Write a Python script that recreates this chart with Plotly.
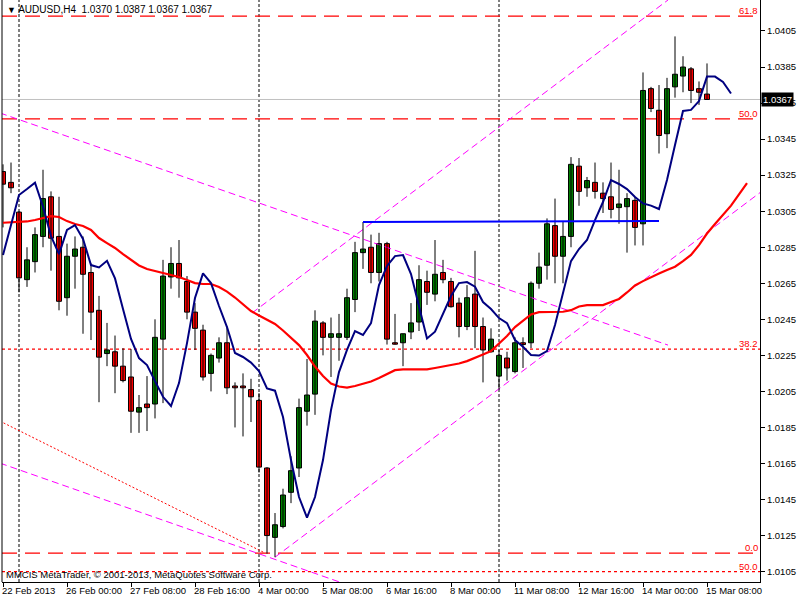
import plotly.graph_objects as go

# ---------------- data ----------------
x_tick_bars = [0, 8, 16, 24, 32, 40, 48, 56, 64, 72, 80, 88]
x_tick_labels = ["22 Feb 2013", "26 Feb 00:00", "27 Feb 08:00", "28 Feb 16:00", "4 Mar 00:00",
                 "5 Mar 08:00", "6 Mar 16:00", "8 Mar 00:00", "11 Mar 08:00", "12 Mar 16:00",
                 "14 Mar 00:00", "15 Mar 08:00"]
y_tick_values = [1.0105, 1.0125, 1.0145, 1.0165, 1.0185, 1.0205, 1.0225, 1.0245, 1.0265,
                 1.0285, 1.0305, 1.0325, 1.0345, 1.0365, 1.0385, 1.0405]

opens = [1.0327, 1.0321, 1.03045, 1.0267, 1.0277, 1.0291, 1.0313, 1.0291, 1.0257, 1.0280,
         1.0285, 1.0271, 1.0250, 1.0226, 1.0227, 1.0219, 1.0213, 1.01935, 1.0198, 1.0198,
         1.0234, 1.02685, 1.0276, 1.0266, 1.0249, 1.0239, 1.0215, 1.02235, 1.0232, 1.0208,
         1.0208, 1.0206, 1.0200, 1.01625, 1.0124, 1.0130, 1.0149, 1.01625, 1.0194, 1.02035,
         1.0243, 1.0235, 1.0235, 1.0235, 1.0256, 1.0282, 1.0285, 1.0271, 1.0287, 1.0232,
         1.0232, 1.0238, 1.02435, 1.0266, 1.0259, 1.0271, 1.0266, 1.0254, 1.0241, 1.0259,
         1.0241, 1.0227, 1.02135, 1.02235, 1.0216, 1.0232, 1.0232, 1.0265, 1.0275, 1.0297,
         1.0280, 1.0291, 1.0330, 1.0318, 1.0321, 1.0315, 1.0313, 1.0307, 1.03075, 1.0311,
         1.0298, 1.0373, 1.0361, 1.0348, 1.0374, 1.0380, 1.0384, 1.0373, 1.0370]
highs = [1.0331, 1.0332, 1.0305, 1.0285, 1.0296, 1.0328, 1.0316, 1.0313, 1.0287, 1.0291,
         1.0291, 1.0276, 1.0258, 1.0243, 1.0236, 1.0229, 1.02285, 1.0203, 1.02135, 1.0245,
         1.0278, 1.0285, 1.0289, 1.0269, 1.0254, 1.0242, 1.0226, 1.0235, 1.0241, 1.0210,
         1.0215, 1.0212, 1.0204, 1.0163, 1.01375, 1.0151, 1.0169, 1.0201, 1.0223, 1.0250,
         1.0244, 1.0246, 1.0248, 1.0262, 1.0288, 1.0299, 1.0292, 1.0293, 1.0288, 1.0248,
         1.0237, 1.0254, 1.0275, 1.0272, 1.0289, 1.0278, 1.0268, 1.0257, 1.0264, 1.0283,
         1.0246, 1.0240, 1.0228, 1.0227, 1.0235, 1.0235, 1.0266, 1.0282, 1.0301, 1.0312,
         1.0299, 1.0335, 1.03345, 1.0324, 1.0332, 1.0321, 1.0332, 1.0328, 1.0315, 1.0313,
         1.0382, 1.0374, 1.0375, 1.0379, 1.0402, 1.0391, 1.0385, 1.0377, 1.0387]
lows = [1.0296, 1.0315, 1.0260, 1.0263, 1.0271, 1.0285, 1.0272, 1.0250, 1.0247, 1.0262,
        1.0237, 1.02335, 1.0199, 1.0219, 1.0204, 1.0210, 1.0182, 1.0182, 1.0183, 1.0190,
        1.01985, 1.0262, 1.0257, 1.0245, 1.0228, 1.0211, 1.0205, 1.0221, 1.02035, 1.0185,
        1.0180, 1.0188, 1.0160, 1.0115, 1.0113, 1.0129, 1.0143, 1.01575, 1.0186, 1.0192,
        1.0225, 1.0213, 1.0222, 1.02335, 1.0249, 1.0273, 1.0265, 1.0266, 1.0231, 1.0231,
        1.0219, 1.0234, 1.02385, 1.0253, 1.0255, 1.0265, 1.02515, 1.0235, 1.0239, 1.0229,
        1.0210, 1.02265, 1.0206, 1.0211, 1.0215, 1.0218, 1.0229, 1.0262, 1.0267, 1.0265,
        1.0265, 1.0285, 1.0308, 1.0313, 1.0312, 1.0304, 1.0301, 1.0298, 1.0282, 1.0286,
        1.0286, 1.0360, 1.0337, 1.0340, 1.0368, 1.0371, 1.0365, 1.0364, 1.0367]
closes = [1.0320, 1.0318, 1.0268, 1.0278, 1.0292, 1.0312, 1.0290, 1.0255, 1.0280, 1.0284,
          1.0270, 1.0249, 1.0224, 1.0228, 1.0219, 1.0211, 1.0194, 1.0196, 1.0196, 1.0235,
          1.0269, 1.0276, 1.0268, 1.0249, 1.0240, 1.0213, 1.0225, 1.0232, 1.0207, 1.0207,
          1.0207, 1.0202, 1.0163, 1.0125, 1.0131, 1.01475, 1.0161, 1.0196, 1.0203, 1.0244,
          1.0235, 1.0237, 1.0237, 1.0257, 1.0282, 1.0284, 1.0271, 1.0287, 1.0234, 1.02312,
          1.0237, 1.0243, 1.0267, 1.0260, 1.0270, 1.0267, 1.0252, 1.0241, 1.0257, 1.0241,
          1.0228, 1.0234, 1.0225, 1.0218, 1.0232, 1.0231, 1.0265, 1.0274, 1.0298, 1.0280,
          1.0291, 1.0331, 1.0316, 1.0322, 1.0316, 1.0312, 1.0306, 1.0309, 1.0312, 1.0296,
          1.0372, 1.0362, 1.0347, 1.0373, 1.0381, 1.0385, 1.0372, 1.0371, 1.0367]

# slow moving average (drawn shifted forward 5 bars)
ma_slow = [1.02986, 1.02987, 1.02990, 1.02993, 1.03001, 1.03012, 1.03023, 1.03018, 1.02995, 1.02979,
           1.02968, 1.02946, 1.02901, 1.02873, 1.02846, 1.02812, 1.02782, 1.02749, 1.02729, 1.02718,
           1.02704, 1.02696, 1.02685, 1.02668, 1.02651, 1.02646, 1.02646, 1.02629, 1.02604, 1.02571,
           1.02532, 1.02496, 1.02471, 1.02449, 1.02424, 1.02388, 1.02349, 1.02307, 1.02252, 1.02188,
           1.02135, 1.02094, 1.02077, 1.02071, 1.02080, 1.02094, 1.02105, 1.02124, 1.02146, 1.02168,
           1.02172, 1.02172, 1.02172, 1.02172, 1.02180, 1.02188, 1.02193, 1.02205, 1.02218, 1.02235,
           1.02255, 1.02274, 1.02313, 1.02357, 1.02407, 1.02443, 1.02477, 1.02490, 1.02492, 1.02492,
           1.02492, 1.02501, 1.02521, 1.02529, 1.02529, 1.02529, 1.02546, 1.02563, 1.02599, 1.02638,
           1.02662, 1.02685, 1.02704, 1.02724, 1.02742, 1.02773, 1.02807, 1.02862, 1.02926, 1.02979,
           1.03029, 1.03081, 1.03143, 1.03206]
# fast moving average (drawn shifted forward 3 bars)
ma_fast = [1.02807, 1.02968, 1.03140, 1.03173, 1.03208, 1.03075, 1.02912, 1.02812, 1.02946, 1.02973,
           1.02896, 1.02751, 1.02738, 1.02775, 1.02677, 1.02507, 1.02341, 1.02235, 1.02196, 1.02107,
           1.02020, 1.01969, 1.02096, 1.02318, 1.02568, 1.02705, 1.02651, 1.02524, 1.02407, 1.02263,
           1.02241, 1.02210, 1.02163, 1.02067, 1.02054, 1.01908, 1.01669, 1.01464, 1.01349, 1.01464,
           1.01669, 1.01946, 1.02157, 1.02280, 1.02385, 1.02363, 1.02429, 1.02640, 1.02746, 1.02801,
           1.02807, 1.02701, 1.02524, 1.02344, 1.02381, 1.02485, 1.02579, 1.02651, 1.02657, 1.02631,
           1.02546, 1.02507, 1.02457, 1.02429, 1.02335, 1.02298, 1.02252, 1.02249, 1.02274, 1.02418,
           1.02596, 1.02773, 1.02840, 1.02890, 1.03001, 1.03101, 1.03223, 1.03201, 1.03173, 1.03129,
           1.03093, 1.03081, 1.03062, 1.03223, 1.03417, 1.03606, 1.03612, 1.03661, 1.03797, 1.03797,
           1.03767, 1.03703]

current_price = 1.0367
fib_dash_levels = [1.04133, 1.03562, 1.01153]
fib_dash_labels = ["61.8", "50.0", "0.0"]
fib_dot_levels = [1.02285, 1.0105]
fib_dot_labels = ["38.2", "50.0"]
separator_bars = [2, 32, 62]
level_line_x = [45, 82]
level_line_y = [1.02990, 1.02996]
trend_falling_x = [-0.375, 83.125]
trend_falling_y = [1.03595, 1.02307]
channel_upper_x = [31.125, 83.125]
channel_upper_y = [1.02485, 1.04222]
channel_lower_x = [34, 94.625]
channel_lower_y = [1.0113, 1.03153]
trend_low_x = [-0.375, 50]
trend_low_y = [1.01652, 1.00869]
fib_diag_x = [-0.375, 32.75]
fib_diag_y = [1.01885, 1.01153]

# ---------------- figure ----------------
FONT = "Liberation Sans"
FS = 9.5
fig = go.Figure()

# trend lines (under candles)
for xs, ys in [(trend_falling_x, trend_falling_y), (channel_upper_x, channel_upper_y),
               (channel_lower_x, channel_lower_y), (trend_low_x, trend_low_y)]:
    fig.add_trace(go.Scatter(x=xs, y=ys, mode="lines",
                             line=dict(color="#FF00FF", width=1, dash="7px,4px"), hoverinfo="skip"))
fig.add_trace(go.Scatter(x=fib_diag_x, y=fib_diag_y, mode="lines",
                         line=dict(color="#FF0000", width=1, dash="2px,2px"), hoverinfo="skip"))

# candle wicks
n = len(opens)
wx, wy = [], []
for i in range(n):
    wx += [i, i, None]
    wy += [lows[i], highs[i], None]
fig.add_trace(go.Scatter(x=wx, y=wy, mode="lines", line=dict(color="black", width=1), hoverinfo="skip"))

# candle bodies
up = [i for i in range(n) if closes[i] >= opens[i]]
dn = [i for i in range(n) if closes[i] < opens[i]]
fig.add_trace(go.Bar(x=up, y=[closes[i] - opens[i] for i in up], base=[opens[i] for i in up],
                     width=0.62, marker=dict(color="#008000", line=dict(color="black", width=1)),
                     hoverinfo="skip"))
fig.add_trace(go.Bar(x=dn, y=[opens[i] - closes[i] for i in dn], base=[closes[i] for i in dn],
                     width=0.62, marker=dict(color="#FF0000", line=dict(color="black", width=1)),
                     hoverinfo="skip"))

# moving averages
fig.add_trace(go.Scatter(x=list(range(len(ma_slow))), y=ma_slow, mode="lines",
                         line=dict(color="#FF0000", width=2.2), hoverinfo="skip"))
fig.add_trace(go.Scatter(x=list(range(len(ma_fast))), y=ma_fast, mode="lines",
                         line=dict(color="#000080", width=2), hoverinfo="skip"))

# horizontal level line
fig.add_trace(go.Scatter(x=level_line_x, y=level_line_y, mode="lines",
                         line=dict(color="#0000FF", width=2), hoverinfo="skip"))

shapes = []
for b in separator_bars:
    shapes.append(dict(type="line", xref="x", yref="paper", x0=b, x1=b, y0=0, y1=1,
                       line=dict(color="black", width=1, dash="3px,2px"), layer="below"))
shapes.append(dict(type="line", xref="paper", yref="y", x0=0, x1=1, y0=current_price, y1=current_price,
                   line=dict(color="#C0C0C0", width=1), layer="below"))
for lv in fib_dash_levels:
    shapes.append(dict(type="line", xref="paper", yref="y", x0=0, x1=1, y0=lv, y1=lv,
                       line=dict(color="#FF0000", width=1.3, dash="15px,8px"), layer="below"))
for lv in fib_dot_levels:
    shapes.append(dict(type="line", xref="paper", yref="y", x0=0, x1=1, y0=lv, y1=lv,
                       line=dict(color="#FF0000", width=1.2, dash="3px,3px"), layer="below"))
shapes.append(dict(type="line", xref="paper", yref="paper", x0=0, x1=0, y0=0, y1=1,
                   line=dict(color="black", width=1)))

annotations = []
for b, t in zip(x_tick_bars, x_tick_labels):
    annotations.append(dict(x=b, y=0, xref="x", yref="paper", text=t, showarrow=False,
                            xanchor="left", yanchor="top", xshift=-3, yshift=-1,
                            font=dict(family=FONT, size=FS, color="black")))
for lv, t in list(zip(fib_dash_levels, fib_dash_labels)) + list(zip(fib_dot_levels, fib_dot_labels)):
    annotations.append(dict(x=1, y=lv, xref="paper", yref="y", text=t, showarrow=False,
                            xanchor="right", yanchor="bottom", xshift=0, yshift=-2,
                            font=dict(family=FONT, size=FS, color="#FF0000")))
annotations.append(dict(x=1, y=current_price, xref="paper", yref="y", text="1.0367", showarrow=False,
                        xanchor="left", yanchor="middle", xshift=1, bgcolor="black", borderpad=1,
                        font=dict(family=FONT, size=FS, color="white")))
annotations.append(dict(x=0, y=1, xref="paper", yref="paper",
                        text="<span style='font-size:9px'>▼</span> AUDUSD,H4\u00a0 1.0370 1.0387 1.0367 1.0367",
                        showarrow=False, xanchor="left", yanchor="top", xshift=3, yshift=-2,
                        font=dict(family=FONT, size=FS + 0.5, color="black")))
annotations.append(dict(x=0, y=0, xref="paper", yref="paper",
                        text="MMCIS MetaTrader, © 2001-2013, MetaQuotes Software Corp.",
                        showarrow=False, xanchor="left", yanchor="bottom", xshift=2, yshift=0,
                        font=dict(family=FONT, size=FS, color="black")))

fig.update_layout(
    width=800, height=600,
    margin=dict(l=2, r=40, t=0, b=18),
    plot_bgcolor="white", paper_bgcolor="white",
    showlegend=False, hovermode=False, barmode="overlay", bargap=0,
    shapes=shapes, annotations=annotations,
    xaxis=dict(range=[-0.125, 94.625], tickmode="array", tickvals=x_tick_bars,
               showticklabels=False, ticks="outside", ticklen=4, tickcolor="black",
               showline=True, linecolor="black", linewidth=1, showgrid=False, zeroline=False,
               fixedrange=True),
    yaxis=dict(range=[1.009923, 1.042220], side="right", tickmode="array", tickvals=y_tick_values,
               ticktext=[f"{v:.4f}" for v in y_tick_values], ticks="outside", ticklen=4,
               tickcolor="black", showline=True, linecolor="black", linewidth=1,
               showgrid=False, zeroline=False, fixedrange=True,
               tickfont=dict(family=FONT, size=FS, color="black")),
)

fig.write_html("out.html",
               config={"displayModeBar": False, "staticPlot": True},
               post_script="document.body.style.margin='0px';document.body.style.padding='0px';"
                           "document.body.style.overflow='hidden';")
